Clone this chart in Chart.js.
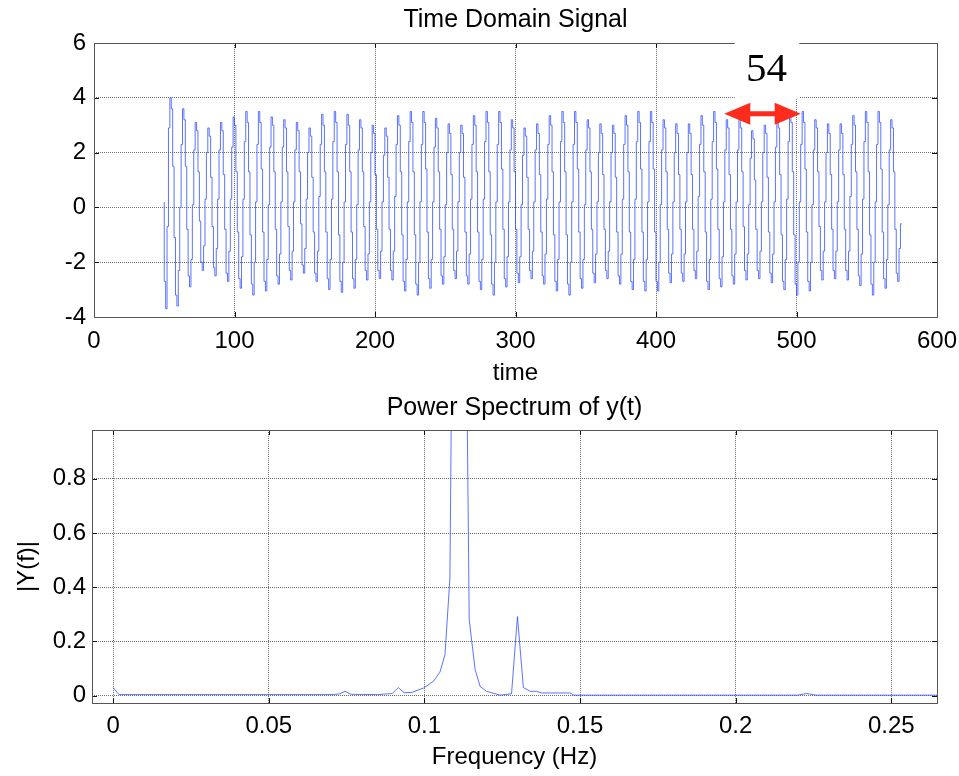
<!DOCTYPE html>
<html>
<head>
<meta charset="utf-8">
<title>Time Domain Signal / Power Spectrum</title>
<script src="https://cdn.jsdelivr.net/npm/chart.js@4.4.1/dist/chart.umd.min.js"></script>
<style>
  html, body { margin: 0; padding: 0; background: #fff; }
  #wrap { position: relative; width: 959px; height: 776px; }
  canvas { position: absolute; left: 0; }
  #timeChart { top: 0; }
  #specChart { top: 390px; }
</style>
</head>
<body>
<div id="wrap">
  <canvas id="timeChart" width="959" height="390"></canvas>
  <canvas id="specChart" width="959" height="386"></canvas>
</div>
<script>
// sampled signal y(t), one sample per second, first sample at t = 50
const tStart = 50;
const signal = [
  0.2, -2.7, -3.7, -0.7, 2.9,
  4.0, 3.6, 1.5, -1.1, -3.2, -3.6, -2.3, 0.0, 2.3,
  3.6, 3.2, 1.5, -0.8, -2.5, -2.9, -1.9, 0.1, 2.1,
  3.1, 2.8, 1.3, -0.5, -2.0, -2.3, -1.4, 0.3, 2.0,
  2.9, 2.6, 1.1, -0.7, -2.2, -2.5, -1.5, 0.3, 2.1,
  3.1, 2.8, 1.2, -0.8, -2.4, -2.7, -1.6, 0.3, 2.2,
  3.3, 3.0, 1.3, -0.9, -2.6, -2.95, -1.8, 0.3, 2.4,
  3.5, 3.1, 1.3, -1.0, -2.8, -3.2, -2.0, 0.2, 2.3,
  3.5, 3.1, 1.4, -0.9, -2.7, -3.05, -1.9, 0.1, 2.2,
  3.3, 3.0, 1.3, -0.8, -2.5, -2.8, -1.7, 0.2, 2.2,
  3.2, 2.9, 1.3, -0.7, -2.3, -2.65, -1.6, 0.2, 2.1,
  3.1, 2.8, 1.3, -0.6, -2.1, -2.4, -1.5, 0.3, 2.0,
  2.9, 2.6, 1.1, -0.9, -2.4, -2.7, -1.6, 0.4, 2.3,
  3.4, 3.0, 1.3, -0.9, -2.6, -3.0, -1.9, 0.3, 2.4,
  3.5, 3.1, 1.3, -1.0, -2.7, -3.1, -2.0, 0.2, 2.3,
  3.4, 3.0, 1.3, -0.9, -2.6, -2.95, -1.9, 0.1, 2.1,
  3.2, 2.9, 1.3, -0.7, -2.3, -2.65, -1.7, 0.2, 2.0,
  3.0, 2.7, 1.2, -0.8, -2.3, -2.6, -1.6, 0.2, 1.9,
  2.9, 2.6, 1.1, -0.8, -2.3, -2.65, -1.6, 0.4, 2.3,
  3.35, 3.0, 1.3, -1.0, -2.7, -3.05, -1.9, 0.2, 2.4,
  3.5, 3.1, 1.3, -1.0, -2.8, -3.2, -2.0, 0.2, 2.3,
  3.5, 3.1, 1.4, -0.9, -2.6, -2.95, -1.9, 0.2, 2.2,
  3.25, 2.9, 1.3, -0.8, -2.5, -2.8, -1.8, 0.1, 2.0,
  3.05, 2.7, 1.2, -0.8, -2.3, -2.6, -1.6, 0.2, 2.0,
  3.0, 2.7, 1.1, -0.9, -2.5, -2.8, -1.7, 0.3, 2.3,
  3.35, 3.0, 1.3, -0.9, -2.7, -3.0, -1.9, 0.3, 2.4,
  3.5, 3.1, 1.3, -1.0, -2.8, -3.2, -2.0, 0.2, 2.3,
  3.5, 3.1, 1.4, -0.8, -2.6, -2.9, -1.8, 0.2, 2.1,
  3.2, 2.9, 1.3, -0.8, -2.4, -2.75, -1.8, 0.1, 1.9,
  2.9, 2.6, 1.1, -0.8, -2.3, -2.6, -1.6, 0.2, 2.1,
  3.05, 2.7, 1.2, -0.9, -2.5, -2.8, -1.7, 0.3, 2.3,
  3.35, 3.0, 1.3, -1.0, -2.7, -3.05, -1.9, 0.2, 2.4,
  3.5, 3.1, 1.3, -1.0, -2.8, -3.2, -2.0, 0.2, 2.3,
  3.5, 3.1, 1.4, -0.9, -2.6, -2.95, -1.9, 0.1, 2.1,
  3.2, 2.9, 1.3, -0.8, -2.4, -2.75, -1.7, 0.2, 2.0,
  3.05, 2.7, 1.2, -0.8, -2.3, -2.6, -1.6, 0.2, 2.0,
  3.0, 2.7, 1.1, -0.9, -2.5, -2.8, -1.7, 0.3, 2.3,
  3.35, 3.0, 1.3, -0.9, -2.7, -3.0, -1.9, 0.3, 2.4,
  3.5, 3.1, 1.4, -0.9, -2.7, -3.05, -1.9, 0.2, 2.4,
  3.5, 3.1, 1.4, -0.9, -2.7, -3.05, -2.0, 0.1, 2.1,
  3.2, 2.9, 1.3, -0.8, -2.4, -2.75, -1.7, 0.2, 2.0,
  3.05, 2.7, 1.2, -0.8, -2.4, -2.7, -1.7, 0.2, 2.0,
  3.05, 2.7, 1.2, -0.8, -2.3, -2.6, -1.6, 0.4, 2.3,
  3.35, 3.0, 1.3, -0.9, -2.7, -3.0, -1.9, 0.3, 2.4,
  3.5, 3.1, 1.4, -0.8, -2.6, -2.9, -1.8, 0.2, 2.1,
  3.2, 2.9, 1.2, -0.8, -2.5, -2.8, -1.7, 0.2, 2.1,
  3.2, 2.9, 1.3, -0.7, -2.3, -2.65, -1.7, 0.1, 1.8,
  2.8, 2.5, 1.0, -0.8, -2.3, -2.6, -1.6, 0.2, 2.0,
  3.0, 2.7, 1.1, -0.9, -2.4, -2.75, -1.7, 0.2, 2.2,
  3.2, 2.9, 1.2, -1.0, -2.7, -3.0, -1.9, 0.3, 2.4,
  3.5, 3.1, 1.3, -1.0, -2.8, -3.2, -2.0, 0.2, 2.3,
  3.5, 3.1, 1.4, -0.9, -2.7, -3.05, -2.0, 0.1, 2.1,
  3.2, 2.9, 1.3, -0.7, -2.3, -2.65, -1.6, 0.2, 2.0,
  3.05, 2.7, 1.2, -0.8, -2.3, -2.6, -1.6, 0.2, 2.1,
  3.05, 2.7, 1.2, -0.8, -2.3, -2.65, -1.6, 0.4, 2.3,
  3.35, 3.0, 1.3, -0.8, -2.5, -2.85, -1.7, 0.3, 2.4,
  3.5, 3.1, 1.3, -1.0, -2.8, -3.2, -2.0, 0.2, 2.3,
  3.5, 3.1, 1.4, -0.9, -2.6, -2.95, -1.9, 0.1, 2.1,
  3.2, 2.9, 1.3, -0.8, -2.4, -2.7, -1.5, -0.6
];
const timeTicks = [0, 100, 200, 300, 400, 500, 600];
const ampTicks = [-4, -2, 0, 2, 4, 6];

// power spectrum |Y(f)|
const freq = [0, 0.0019, 0.07, 0.0726, 0.0745, 0.0764, 0.085, 0.0897, 0.0916, 0.0935,
  0.0959, 0.0997, 0.1029, 0.105, 0.1066, 0.1082, 0.1101, 0.112, 0.1144, 0.1163,
  0.1179, 0.12, 0.1243, 0.128, 0.1299, 0.1318, 0.134, 0.136, 0.1377, 0.1468,
  0.148, 0.22, 0.2229, 0.2258, 0.2647];
const specMag = [0.03, 0.004, 0.004, 0.006, 0.016, 0.005, 0.004, 0.008, 0.03, 0.011,
  0.012, 0.028, 0.053, 0.087, 0.151, 0.433, 3.0, 3.1, 0.28, 0.096,
  0.034, 0.016, 0.002, 0.007, 0.292, 0.03, 0.016, 0.016, 0.01, 0.01,
  0.002, 0.002, 0.008, 0.002, 0.002];
const freqTicks = [0, 0.05, 0.1, 0.15, 0.2, 0.25];
const freqLabels = ['0', '0.05', '0.1', '0.15', '0.2', '0.25'];
const magTicks = [0, 0.2, 0.4, 0.6, 0.8];
const magLabels = ['0', '0.2', '0.4', '0.6', '0.8'];

const fontSans = '"Liberation Sans", Arial, Helvetica, sans-serif';
Chart.defaults.font.family = fontSans;
Chart.defaults.color = '#000';

const lineBlue = 'rgba(50,80,255,0.8)';
const gridColor = 'rgba(30,30,30,0.65)';

// matlab-like box with inward tick marks, title centred over the axes
const axesBox = {
  id: 'axesBox',
  afterDraw(chart, args, opts) {
    const {ctx, chartArea: a, scales: {x, y}} = chart;
    ctx.save();
    ctx.strokeStyle = '#111';
    ctx.lineWidth = 1;
    ctx.beginPath();
    x.ticks.forEach(t => {
      const px = Math.round(x.getPixelForValue(t.value)) + 0.5;
      ctx.moveTo(px, a.bottom); ctx.lineTo(px, a.bottom - 5);
      ctx.moveTo(px, a.top); ctx.lineTo(px, a.top + 5);
    });
    y.ticks.forEach(t => {
      const py = Math.round(y.getPixelForValue(t.value)) + 0.5;
      ctx.moveTo(a.left, py); ctx.lineTo(a.left + 5, py);
      ctx.moveTo(a.right, py); ctx.lineTo(a.right - 5, py);
    });
    ctx.stroke();
    ctx.strokeStyle = '#555';
    ctx.strokeRect(Math.round(a.left) + 0.5, Math.round(a.top) + 0.5,
      Math.round(a.right - a.left), Math.round(a.bottom - a.top));

    if (opts.text) {
      ctx.fillStyle = '#000';
      ctx.font = opts.size + 'px ' + fontSans;
      ctx.textAlign = 'center';
      ctx.textBaseline = 'middle';
      ctx.fillText(opts.text, (a.left + a.right) / 2, opts.y);
    }
    ctx.restore();
  }
};

// the pasted "54" period label with red double arrow
const periodNote = {
  id: 'periodNote',
  afterDraw(chart) {
    const {ctx, chartArea: a, scales: {x, y}} = chart;
    ctx.save();
    ctx.fillStyle = '#fff';
    const bx = x.getPixelForValue(456), bw = x.getPixelForValue(502) - bx;
    const by = a.top - 6, bh = y.getPixelForValue(3.95) - by;
    ctx.fillRect(bx, by, bw, bh);

    ctx.fillStyle = '#000';
    ctx.font = '41px "Liberation Serif", "Times New Roman", serif';
    ctx.textAlign = 'center';
    ctx.textBaseline = 'alphabetic';
    ctx.fillText('54', x.getPixelForValue(478.6), y.getPixelForValue(4.62));

    const xl = x.getPixelForValue(448.6), xr = x.getPixelForValue(503);
    const yc = y.getPixelForValue(3.42);
    const head = 26, hh = 11, sh = 2.5;
    ctx.fillStyle = '#ff2b1c';
    ctx.beginPath();
    ctx.moveTo(xl, yc);
    ctx.lineTo(xl + head, yc - hh);
    ctx.lineTo(xl + head, yc - sh);
    ctx.lineTo(xr - head, yc - sh);
    ctx.lineTo(xr - head, yc - hh);
    ctx.lineTo(xr, yc);
    ctx.lineTo(xr - head, yc + hh);
    ctx.lineTo(xr - head, yc + sh);
    ctx.lineTo(xl + head, yc + sh);
    ctx.lineTo(xl + head, yc + hh);
    ctx.closePath();
    ctx.fill();
    ctx.restore();
  }
};

function fixedTicks(values) {
  return scale => { scale.ticks = values.map(v => ({value: v})); };
}
// keep the plot box fixed: no extra room for overhanging tick labels
function fixHeight(h) {
  return s => { s.height = h; s.paddingLeft = 0; s.paddingRight = 0; };
}
function fixWidth(w) {
  return s => { s.width = w; s.paddingTop = 0; s.paddingBottom = 0; };
}

new Chart(document.getElementById('timeChart'), {
  type: 'line',
  data: {
    datasets: [{
      data: signal.map((v, i) => ({x: tStart + i, y: v})),
      borderColor: lineBlue,
      borderWidth: 1,
      pointRadius: 0,
      stepped: 'after'
    }]
  },
  options: {
    responsive: false,
    animation: false,
    events: [],
    layout: {padding: {left: 0, right: 22, top: 43, bottom: 0}},
    plugins: {
      legend: {display: false},
      tooltip: {enabled: false},
      axesBox: {text: 'Time Domain Signal', size: 25, y: 20}
    },
    scales: {
      x: {
        type: 'linear',
        min: 0,
        max: 600,
        afterBuildTicks: fixedTicks(timeTicks),
        afterFit: fixHeight(73),
        grid: {color: gridColor, drawTicks: false},
        border: {display: false, dash: [1, 1]},
        ticks: {padding: 10, font: {size: 24}, maxRotation: 0, autoSkip: false,
          callback: v => String(v)},
        title: {display: true, text: 'time', font: {size: 24}, padding: {top: 0, bottom: 2}}
      },
      y: {
        min: -4,
        max: 6,
        afterBuildTicks: fixedTicks(ampTicks),
        afterFit: fixWidth(94),
        grid: {color: gridColor, drawTicks: false},
        border: {display: false, dash: [1, 1]},
        ticks: {padding: 8, font: {size: 24}, callback: v => String(v)}
      }
    }
  },
  plugins: [axesBox, periodNote]
});

new Chart(document.getElementById('specChart'), {
  type: 'line',
  data: {
    datasets: [{
      data: freq.map((f, i) => ({x: f, y: specMag[i]})),
      borderColor: lineBlue,
      borderWidth: 1,
      pointRadius: 0,
      tension: 0
    }]
  },
  options: {
    responsive: false,
    animation: false,
    events: [],
    layout: {padding: {left: 0, right: 22, top: 40, bottom: 0}},
    plugins: {
      legend: {display: false},
      tooltip: {enabled: false},
      axesBox: {text: 'Power Spectrum of y(t)', size: 25, y: 18}
    },
    scales: {
      x: {
        type: 'linear',
        min: -0.0068,
        max: 0.2647,
        afterBuildTicks: fixedTicks(freqTicks),
        afterFit: fixHeight(73),
        grid: {color: gridColor, drawTicks: false},
        border: {display: false, dash: [1, 1]},
        ticks: {padding: 9, font: {size: 24}, maxRotation: 0, autoSkip: false,
          callback: (v, i) => freqLabels[i]},
        title: {display: true, text: 'Frequency (Hz)', font: {size: 24}, padding: {top: 0, bottom: 4}}
      },
      y: {
        min: -0.027,
        max: 0.98,
        afterBuildTicks: fixedTicks(magTicks),
        afterFit: fixWidth(92),
        grid: {color: gridColor, drawTicks: false},
        border: {display: false, dash: [1, 1]},
        ticks: {padding: 6, font: {size: 24}, callback: (v, i) => magLabels[i]},
        title: {display: true, text: '|Y(f)|', font: {size: 24}, padding: {top: 13, bottom: 0}}
      }
    }
  },
  plugins: [axesBox]
});
</script>
</body>
</html>
